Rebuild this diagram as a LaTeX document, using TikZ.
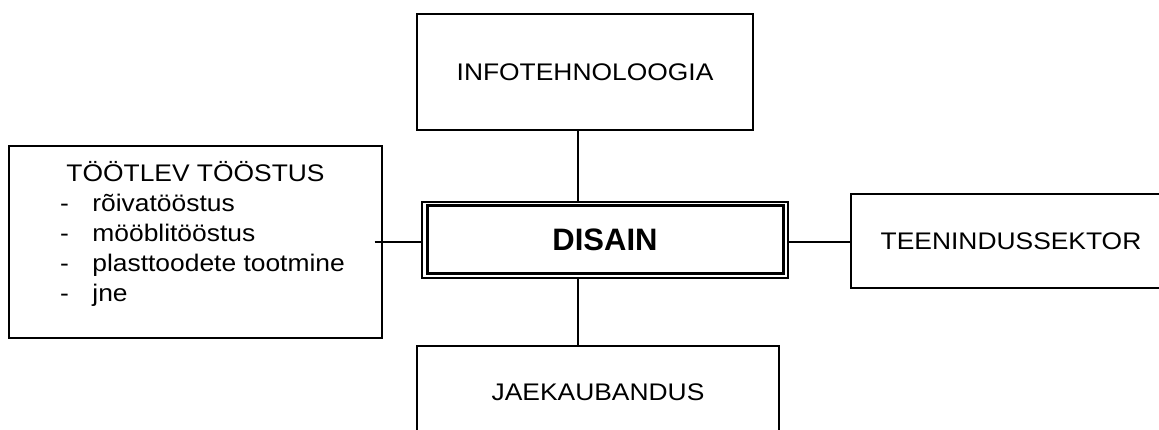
\documentclass[tikz,border=0pt]{standalone}
\usepackage{fontspec}
\setmainfont[FakeStretch=1.1]{Liberation Sans}
\newfontfamily\plainbold[BoldFont={Liberation Sans Bold}]{Liberation Sans}
\begin{document}
\begin{tikzpicture}[x=0.5pt,y=-0.5pt,
  box/.style={draw,line width=0.7pt,inner sep=0pt,align=center,font=\fontsize{12pt}{15pt}\selectfont},
  txt/.style={inner sep=0pt,font=\fontsize{12pt}{15pt}\selectfont},
  conn/.style={line width=0.65pt}]
\useasboundingbox (0,0) rectangle (1159,429);
\clip (0,0) rectangle (1159,429);
% boxes
\node[box,minimum width=168pt,minimum height=58pt] (top) at (585,72) {INFOTEHNOLOOGIA};
\node[box,minimum width=186.5pt,minimum height=96pt] (ttbox) at (195.5,242) {};
\node[box,minimum width=160pt,minimum height=47pt] (tee) at (1011,241) {TEENINDUSSEKTOR};
\node[box,minimum width=181pt,minimum height=46pt] (jae) at (598,392) {JAEKAUBANDUS};
\node[draw,line width=0.6pt,inner sep=0pt,minimum width=183pt,minimum height=38pt,
      font=\plainbold\bfseries\fontsize{15.5pt}{18pt}\selectfont] (dis) at (605,240) {DISAIN};
\draw[line width=1.2pt] ([shift={(6,4)}]dis.north west) rectangle ([shift={(-5,-5)}]dis.south east);
% left box contents
\node[txt,anchor=base] (tt) at (195.5,181) {TÖÖTLEV TÖÖSTUS};
\node[txt,anchor=base] (d1) at (64.5,211.5) {-};
\node[txt,anchor=base] (d2) at (64.5,241.5) {-};
\node[txt,anchor=base] (d3) at (64.5,271.5) {-};
\node[txt,anchor=base] (d4) at (64.5,301.5) {-};
\node[txt,anchor=base west] (i1) at (92,211.5) {rõivatööstus};
\node[txt,anchor=base west] (i2) at (92,241.5) {mööblitööstus};
\node[txt,anchor=base west] (i3) at (92,271.5) {plasttoodete tootmine};
\node[txt,anchor=base west] (i4) at (92,301.5) {jne};
% connectors
\coordinate (vx) at (578,0);
\coordinate (hy) at (0,242);
\draw[conn] (vx |- top.south) -- (vx |- dis.north);
\draw[conn] (vx |- dis.south) -- (vx |- jae.north);
\draw[conn] ([xshift=-4]hy -| ttbox.east) -- (hy -| dis.west);
\draw[conn] (hy -| dis.east) -- (hy -| tee.west);
\end{tikzpicture}
\end{document}
